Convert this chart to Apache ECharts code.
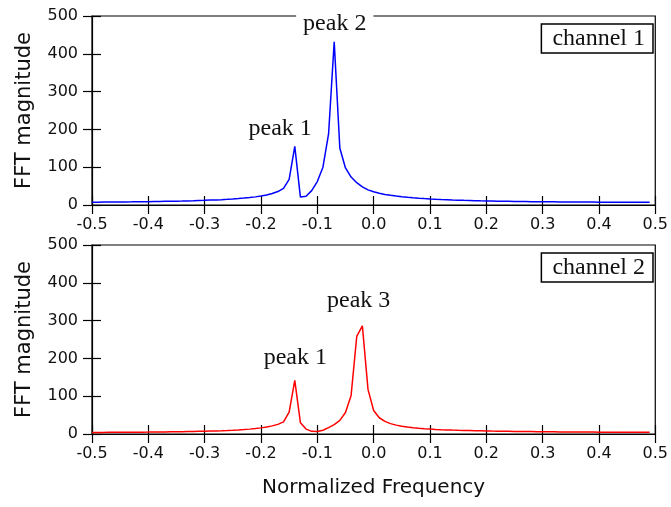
<!DOCTYPE html>
<html>
<head>
<meta charset="utf-8">
<script src="https://cdn.jsdelivr.net/npm/echarts@6/dist/echarts.min.js"></script>
<style>
html,body{margin:0;padding:0;background:#fff;}
#chart{width:671px;height:507px;}
</style>
</head>
<body>
<div id="chart"></div>
<script>
// Frequency grid: normalized frequency bins starting at -0.5 with step 0.01
const FREQ_START = -0.5;
const FREQ_STEP = 0.01;

// FFT magnitude, channel 1 (blue)
const channel1 = [
  7.5, 7.6, 7.7, 7.8, 7.9, 8.0, 8.2, 8.3, 8.5, 8.7,
  8.9, 9.1, 9.3, 9.6, 9.9, 10.2, 10.5, 10.9, 11.3, 11.8,
  12.3, 12.9, 13.5, 14.2, 15.0, 15.9, 17.0, 18.2, 19.7, 21.5,
  23.7, 26.5, 30.3, 35.5, 44, 68, 155, 21, 23, 38,
  62, 100, 188, 432, 150, 98, 74, 59, 48, 40,
  35, 31, 28, 25.5, 23.5, 21.8, 20.3, 19.0, 17.9, 16.9,
  16.0, 15.2, 14.5, 13.9, 13.3, 12.8, 12.3, 11.9, 11.5, 11.1,
  10.8, 10.5, 10.2, 9.9, 9.7, 9.5, 9.3, 9.1, 8.9, 8.7,
  8.6, 8.4, 8.3, 8.2, 8.1, 8.0, 7.9, 7.8, 7.7, 7.7,
  7.6, 7.6, 7.5, 7.5, 7.5, 7.4, 7.4, 7.4, 7.4, 7.4
];

// FFT magnitude, channel 2 (red)
const channel2 = [
  4.0, 4.1, 4.2, 4.3, 4.4, 4.5, 4.6, 4.7, 4.8, 4.9,
  5.0, 5.2, 5.3, 5.5, 5.7, 5.9, 6.1, 6.4, 6.7, 7.0,
  7.3, 7.7, 8.1, 8.6, 9.2, 9.9, 10.7, 11.7, 12.9, 14.4,
  16.2, 18.5, 21.5, 25.5, 32, 58, 142, 30, 13, 7,
  6.5, 10, 17, 25, 36, 57, 102, 258, 286, 118,
  62, 43, 33.5, 27.5, 23.5, 20.5, 18.3, 16.6, 15.2, 14.0,
  13.0, 12.2, 11.5, 10.9, 10.3, 9.8, 9.4, 9.0, 8.6, 8.3,
  8.0, 7.7, 7.5, 7.2, 7.0, 6.8, 6.6, 6.4, 6.3, 6.1,
  6.0, 5.8, 5.7, 5.6, 5.5, 5.4, 5.3, 5.2, 5.1, 5.0,
  4.9, 4.9, 4.8, 4.7, 4.7, 4.6, 4.6, 4.5, 4.5, 4.5
];

// Axis ranges / ticks
const X_MIN = -0.5, X_MAX = 0.5, X_STEP = 0.1;
const Y_MIN = 0, Y_MAX = 500, Y_STEP = 100;

// Legend names
const seriesNames = ['channel 1', 'channel 2'];

// Annotations: [label, x, y] in data coordinates (label centre)
const annotations1 = [['peak 1', -0.166, 201], ['peak 2', -0.069, 480]];
const annotations2 = [['peak 1', -0.139, 201], ['peak 3', -0.0265, 352]];

const freqs = channel1.map((_, i) => +(FREQ_START + i * FREQ_STEP).toFixed(2));
const pairs = arr => arr.map((v, i) => [freqs[i], v]);

const SANS = 'DejaVu Sans';
const SERIF = 'Liberation Serif';

const grids = [
  {left: 92, right: 13, top: 16, height: 189},
  {left: 92, right: 13, top: 245, height: 189}
];

const TICK = {color: '#000', width: 1.2};

function xAxes(gi) {
  const base = {
    type: 'value', gridIndex: gi, min: X_MIN, max: X_MAX, interval: X_STEP,
    position: 'bottom', splitLine: {show: false}
  };
  return [
    Object.assign({}, base, {
      axisLine: {show: true, onZero: false, lineStyle: {color: '#000', width: 1.2}},
      axisTick: {show: true, inside: true, length: 9, lineStyle: TICK},
      axisLabel: {show: true, margin: 12, color: '#111', fontFamily: SANS, fontSize: 16,
        formatter: v => (+v).toFixed(1)},
      name: gi === 1 ? 'Normalized Frequency' : '',
      nameLocation: 'middle', nameGap: 44,
      nameTextStyle: {fontFamily: SANS, fontSize: 20, color: '#111'}
    }),
    Object.assign({}, base, {
      axisLine: {show: false, onZero: false},
      axisTick: {show: true, inside: false, length: 9, lineStyle: TICK},
      axisLabel: {show: false}
    })
  ];
}
function yAxes(gi) {
  const base = {
    type: 'value', gridIndex: gi, min: Y_MIN, max: Y_MAX, interval: Y_STEP,
    position: 'left', splitLine: {show: false}
  };
  return [
    Object.assign({}, base, {
      axisLine: {show: true, onZero: false, lineStyle: {color: '#000', width: 1.2}},
      axisTick: {show: true, inside: true, length: 9, lineStyle: TICK},
      axisLabel: {show: true, margin: 14, color: '#111', fontFamily: SANS, fontSize: 16},
      name: 'FFT magnitude', nameLocation: 'middle', nameGap: 57,
      nameTextStyle: {fontFamily: SANS, fontSize: 21, color: '#111'}
    }),
    Object.assign({}, base, {
      axisLine: {show: false, onZero: false},
      axisTick: {show: true, inside: false, length: 9, lineStyle: TICK},
      axisLabel: {show: false}
    })
  ];
}

function markPts(list) {
  return {
    silent: true,
    symbol: 'rect', symbolSize: 1,
    itemStyle: {color: 'rgba(0,0,0,0)'},
    label: {
      show: true, position: 'inside', color: '#111',
      fontFamily: SERIF, fontSize: 24, backgroundColor: '#fff', padding: [0, 7]
    },
    data: list.map(a => ({coord: [a[1], a[2]], label: {formatter: a[0]}}))
  };
}

const legendBase = {
  right: 18, icon: 'none', itemWidth: 0, itemHeight: 0,
  borderColor: '#000', borderWidth: 1.5, padding: [3, 8, 2, 6], selectedMode: false,
  textStyle: {fontFamily: SERIF, fontSize: 24, color: '#111'}
};

const option = {
  animation: false,
  backgroundColor: '#fff',
  grid: grids.map(g => Object.assign({show: true, borderColor: '#000', borderWidth: 1.2, backgroundColor: 'transparent'}, g)),
  xAxis: [...xAxes(0), ...xAxes(1)],
  yAxis: [...yAxes(0), ...yAxes(1)],
  legend: [
    Object.assign({data: [seriesNames[0]], top: 24}, legendBase),
    Object.assign({data: [seriesNames[1]], top: 253}, legendBase)
  ],
  series: [
    {name: seriesNames[0], type: 'line', xAxisIndex: 0, yAxisIndex: 0, data: pairs(channel1),
     showSymbol: false, lineStyle: {color: '#0000ff', width: 1.5}, itemStyle: {color: '#0000ff'},
     markPoint: markPts(annotations1)},
    {name: seriesNames[1], type: 'line', xAxisIndex: 2, yAxisIndex: 2, data: pairs(channel2),
     showSymbol: false, lineStyle: {color: '#ff0000', width: 1.5}, itemStyle: {color: '#ff0000'},
     markPoint: markPts(annotations2)}
  ]
};

const chart = echarts.init(document.getElementById('chart'), null, {renderer: 'canvas'});
chart.setOption(option);
</script>
</body>
</html>
